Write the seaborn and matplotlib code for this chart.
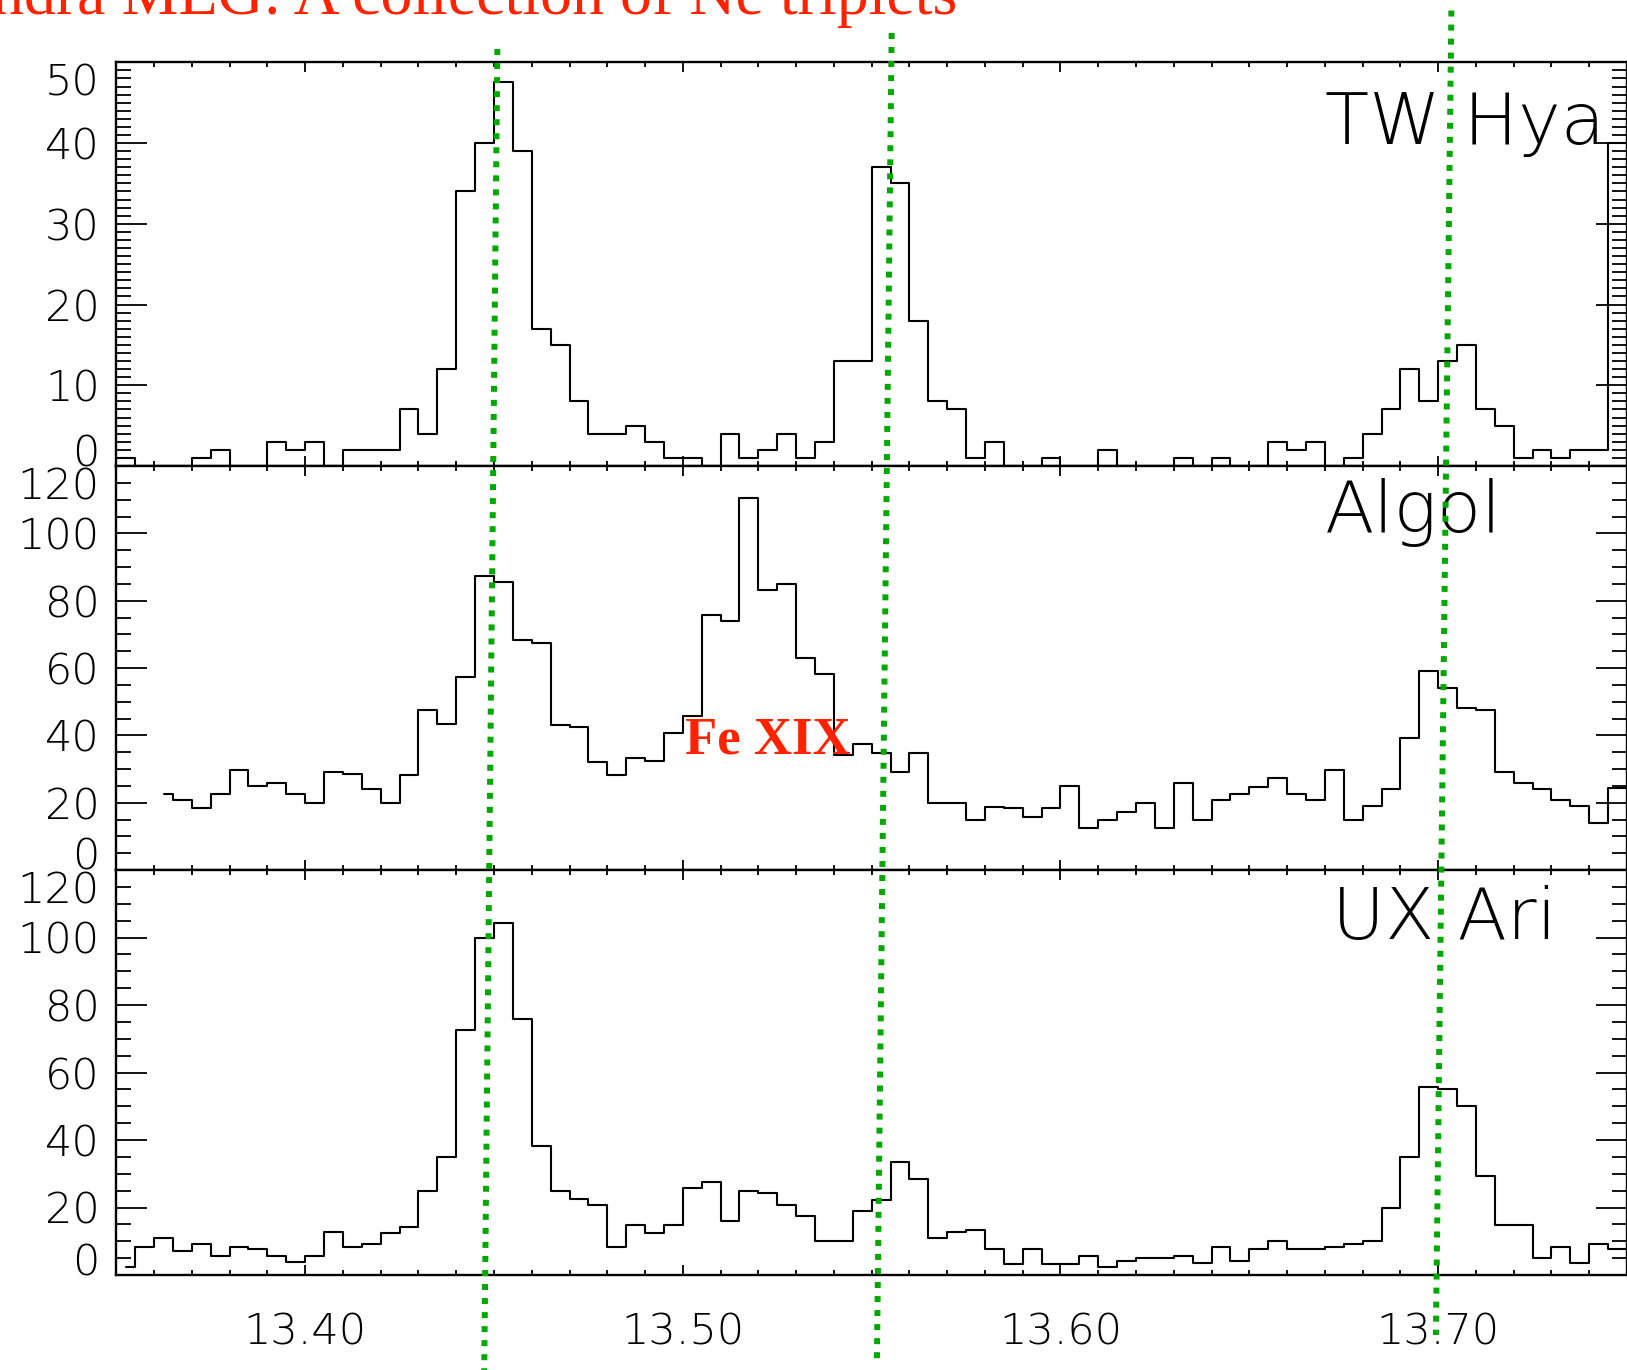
import numpy as np
import pandas as pd
import matplotlib
matplotlib.use("Agg")
import matplotlib.pyplot as plt
import seaborn as sns
from matplotlib.lines import Line2D
from matplotlib.ticker import FixedLocator, MultipleLocator
from matplotlib.transforms import blended_transform_factory
from matplotlib import font_manager as fm

# ---------------- data (counts per 0.005 A bin) ----------------
BIN = 0.005
tw_start = 13.3475
tw_hya = [1,
          1, 0, 0, 0, 1, 2, 0, 0, 3, 2,
          3, 0, 2, 2, 2, 7, 4, 12, 34, 40,
          47.5, 39, 17, 15, 8, 4, 4, 5, 3, 1,
          1, 0, 4, 1, 2, 4, 1, 3, 13, 13,
          37, 35, 18, 8, 7, 1, 3, 0, 0, 1,
          0, 0, 2, 0, 0, 0, 1, 0, 1, 0,
          0, 3, 2, 3, 0, 1, 4, 7, 12, 8,
          13, 15, 7, 5, 1, 2, 1, 2, 2, 40,
          40]

algol_start = 13.3625
algol = [22.5, 20.8, 18.3, 22.5, 29.7, 25, 25.7, 22.5,
         19.8, 29, 28.4, 24, 19.8, 28.2, 47.5, 43.3, 57.4, 87.3,
         85.6, 68.3, 67.5, 43, 42.6, 32.2, 28.2, 33.2, 32.4, 40.8,
         45.7, 75.7, 74, 110.6, 83.2, 84.9, 63.1, 58.1, 34.2, 37.3,
         34.9, 29, 34.9, 20, 20, 14.9, 18.8, 18.3, 15.6, 18.3,
         25, 12.4, 14.9, 17.3, 20, 12.4, 25.7, 14.9, 20.8, 22.5,
         24.8, 27.2, 22.5, 20.8, 29.7, 14.9, 19, 24, 39.1, 59.1,
         54, 48.2, 47.5, 29, 25.7, 24, 20.8, 19, 14, 24.3,
         24.3]

uxari_start = 13.3525
ux_ari = [2.5, 8.4, 11.1, 7.2, 9.1, 5.7, 8.4, 7.7, 5.7, 4,
          5.7, 12.6, 8.4, 9.1, 12.4, 14.2, 25, 35.1, 72.5, 100,
          104.3, 75.8, 38.3, 25, 22.5, 20.8, 8.4, 14.9, 12.4, 14.9,
          25.7, 27.5, 16, 25, 24.3, 20.8, 17.5, 10.1, 10.1, 19.1,
          22.3, 33.4, 28.4, 10.9, 12.6, 13.4, 7.6, 3.4, 7.6, 3.4,
          3.4, 5.7, 2.5, 4.2, 5, 5, 5.7, 3.5, 8.4, 4.2,
          7.6, 10.1, 7.6, 7.6, 8.4, 9.1, 10.1, 20, 35, 55.6,
          55.1, 50, 29.2, 14.9, 14.9, 5.1, 8.4, 3.5, 9.1, 7.6,
          7.6]

star_names = ["TW Hya", "Algol", "UX Ari"]
y_max = [50, 120, 120]
y_major = [10, 20, 20]
y_minor = [1, 5, 5]
x_major = [13.40, 13.50, 13.60, 13.70]
x_major_labels = ["13.40", "13.50", "13.60", "13.70"]
x_range = (13.35, 13.75)

# Ne IX line markers (wavelength at the top / bottom end of each dotted marker)
marker_top_wave = [13.4509, 13.5553, 13.7035]
marker_bot_wave = [13.4474, 13.5514, 13.6994]
marker_top_y = [0.9642, 0.9759, 0.9923]
marker_bot_y = [-0.005, 0.0080, 0.0256]

title_text = "Chandra MEG: A collection of Ne triplets"
fe_label = "Fe XIX"
fe_pos = (13.5007, 34.7)


def make_frame(start, vals):
    wave = np.round(start + BIN * np.arange(len(vals)), 4)
    return pd.DataFrame({"wavelength": wave, "counts": vals})


frames = [make_frame(tw_start, tw_hya), make_frame(algol_start, algol),
          make_frame(uxari_start, ux_ari)]

# ---------------- style ----------------
sns.set_style("ticks")
tick_family, tick_weight = "DejaVu Sans", "normal"
for name, wmax in [("DejaVu Sans", 200), ("Roboto", 300), ("Open Sans", 300), ("Lato", 300)]:
    found = False
    for f in fm.fontManager.ttflist:
        w = f.weight
        if isinstance(w, str):
            w = fm.weight_dict.get(w, 400)
        if f.name == name and w <= wmax:
            found = True
            break
    if found:
        tick_family, tick_weight = name, wmax
        break
plt.rcParams["font.family"] = [tick_family, "DejaVu Sans"]
plt.rcParams["font.weight"] = tick_weight
for key in ["text.color", "xtick.color", "ytick.color", "axes.edgecolor",
            "axes.labelcolor", "xtick.labelcolor", "ytick.labelcolor"]:
    plt.rcParams[key] = "black"

W, H = 1627, 1370
fig = plt.figure(figsize=(W / 100, H / 100), dpi=100)
fig.patch.set_facecolor("white")
left = 116.3 / W
panel_px = [(62.3, 466.0), (466.0, 870.0), (870.0, 1275.0)]
name_pos = [(0.800, 0.797), (0.800, 0.837), (0.8047, 0.830)]

axes = []
for i, (top_px, bot_px) in enumerate(panel_px):
    ax = fig.add_axes([left, 1 - bot_px / H, 1 - left, (bot_px - top_px) / H])
    ax.set_facecolor("white")
    sns.lineplot(data=frames[i], x="wavelength", y="counts", ax=ax,
                 drawstyle="steps-mid", color="black", linewidth=1.5,
                 estimator=None, sort=False, legend=False)
    ax.set_xlim(*x_range)
    ax.set_ylim(0, y_max[i])
    ax.set_xlabel("")
    ax.set_ylabel("")
    ax.xaxis.set_major_locator(FixedLocator(x_major))
    ax.xaxis.set_minor_locator(MultipleLocator(0.01))
    yt = list(range(0, y_max[i] + 1, y_major[i]))
    ax.set_yticks(yt)
    ax.set_yticklabels([str(v) for v in yt])
    ax.yaxis.set_minor_locator(MultipleLocator(y_minor[i]))
    ax.tick_params(axis="x", which="major", direction="in", length=7.2, width=1.3,
                   top=True, bottom=True, pad=26, labelsize=31,
                   color="black", labelcolor="black")
    ax.tick_params(axis="x", which="minor", direction="in", length=3.6, width=1.3,
                   top=True, bottom=True, color="black")
    ax.tick_params(axis="y", which="major", direction="in", length=22, width=1.3,
                   left=True, right=True, pad=12, labelsize=31,
                   color="black", labelcolor="black")
    ax.tick_params(axis="y", which="minor", direction="in", length=11, width=1.3,
                   left=True, right=True, color="black")
    if i < 2:
        ax.tick_params(axis="x", labelbottom=False)
    else:
        ax.set_xticklabels(x_major_labels)
    labs = ax.get_yticklabels()
    for j, lab in enumerate(labs):
        if j == 0:
            lab.set_va("baseline")
        elif j == len(labs) - 1:
            lab.set_va("top")
        else:
            lab.set_va("center_baseline")
    for s in ax.spines.values():
        s.set_linewidth(1.7)
        s.set_color("black")
    ax.text(name_pos[i][0], name_pos[i][1], star_names[i], transform=ax.transAxes,
            ha="left", va="baseline", fontsize=52, color="black")
    axes.append(ax)

# Fe XIX annotation
axes[1].text(fe_pos[0], fe_pos[1], fe_label, ha="left", va="baseline", fontsize=38,
             family="Liberation Serif", weight="bold", color="#FF2200", zorder=5)

# title (partially off the left edge, as in the slide)
fig.text(957 / W, 1 - 13.5 / H, title_text, ha="right", va="baseline", fontsize=46,
         family="Liberation Serif", weight="normal", color="#FF2200")

# dotted green line markers
trans = blended_transform_factory(axes[2].transData, fig.transFigure)
for xt, xb, yt_, yb in zip(marker_top_wave, marker_bot_wave, marker_top_y, marker_bot_y):
    fig.add_artist(Line2D([xt, xb], [yt_, yb], transform=trans, color="#00A800",
                          linewidth=4.3, linestyle=(0, (1.0, 1.35)),
                          dash_capstyle="butt", zorder=20, clip_on=False))

fig.savefig("out.png", dpi=100, facecolor="white")
